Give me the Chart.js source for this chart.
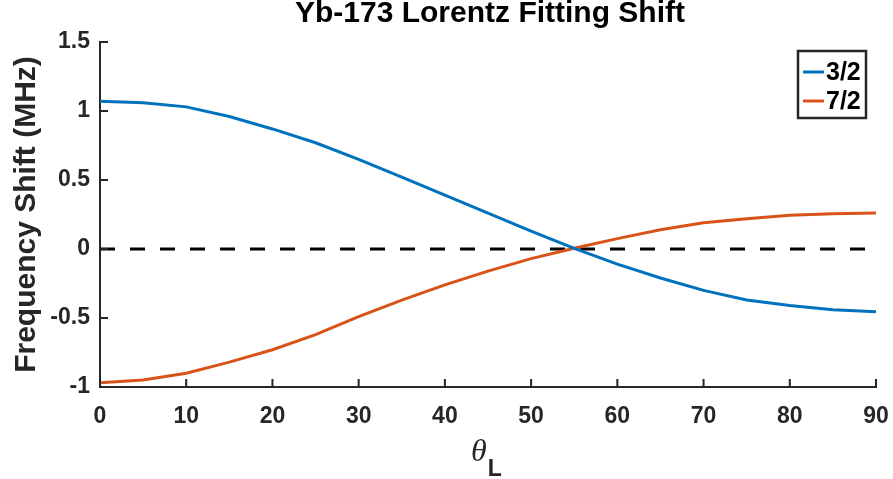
<!DOCTYPE html>
<html>
<head>
<meta charset="utf-8">
<script src="https://cdn.jsdelivr.net/npm/chart.js@4.4.1/dist/chart.umd.min.js"></script>
<style>
  html, body { margin: 0; padding: 0; background: #fff; }
  #wrap { width: 893px; height: 479px; }
</style>
</head>
<body>
<div id="wrap"><canvas id="myChart" width="893" height="479"></canvas></div>
<script>
// angle theta_L in degrees
const angles = [0, 5, 10, 15, 20, 25, 30, 35, 40, 45, 50, 55, 60, 65, 70, 75, 80, 85, 90];
const shift32 = [1.07, 1.06, 1.03, 0.96, 0.87, 0.77, 0.65, 0.52, 0.39, 0.26, 0.13, 0.005, -0.11, -0.21, -0.30, -0.37, -0.41, -0.44, -0.455];
const shift72 = [-0.97, -0.95, -0.90, -0.82, -0.73, -0.62, -0.49, -0.37, -0.26, -0.16, -0.07, 0.005, 0.075, 0.14, 0.19, 0.22, 0.245, 0.255, 0.26];
const zeroX = [0, 90];
const zeroY = [0, 0];

const xTicks = [0, 10, 20, 30, 40, 50, 60, 70, 80, 90];
const yTicks = [-1, -0.5, 0, 0.5, 1, 1.5];
const seriesLabels = ['3/2', '7/2'];

const titleText = 'Yb-173 Lorentz Fitting Shift';
const yTitleText = 'Frequency Shift (MHz)';

const axisColor = '#262626';
const sans = '"Liberation Sans", Arial, sans-serif';

function toPoints(xs, ys) {
    return xs.map((x, i) => ({ x: x, y: ys[i] }));
}

// titles, inward ticks and boxed legend, MATLAB style
const matlabLook = {
    id: 'matlabLook',
    afterDraw(chart) {
        const ctx = chart.ctx;
        const area = chart.chartArea;
        const xs = chart.scales.x;
        const ys = chart.scales.y;
        ctx.save();

        // inward tick marks
        ctx.strokeStyle = axisColor;
        ctx.lineWidth = 2;
        ctx.beginPath();
        xTicks.forEach(v => {
            const px = xs.getPixelForValue(v);
            ctx.moveTo(px, area.bottom);
            ctx.lineTo(px, area.bottom - 8);
        });
        yTicks.forEach(v => {
            const py = ys.getPixelForValue(v);
            ctx.moveTo(area.left, py);
            ctx.lineTo(area.left + 8, py);
        });
        ctx.stroke();

        // title
        const cx = (area.left + area.right) / 2;
        ctx.fillStyle = '#000';
        ctx.font = 'bold 30px ' + sans;
        ctx.textAlign = 'center';
        ctx.textBaseline = 'alphabetic';
        ctx.fillText(titleText, cx + 2, 22);

        // y title
        ctx.save();
        ctx.translate(35, (area.top + area.bottom) / 2);
        ctx.rotate(-Math.PI / 2);
        ctx.fillStyle = axisColor;
        ctx.fillText(yTitleText, 0, 0);
        ctx.restore();

        // x title: theta with subscript L
        ctx.fillStyle = axisColor;
        ctx.font = 'italic 32px "Liberation Serif", "Times New Roman", serif';
        const tw = ctx.measureText('\u03B8').width;
        ctx.font = 'bold 23px ' + sans;
        const lw = ctx.measureText('L').width;
        const startX = cx - (tw + lw) / 2 - 2;
        ctx.textAlign = 'left';
        ctx.font = 'italic 32px "Liberation Serif", "Times New Roman", serif';
        ctx.fillText('\u03B8', startX, 461);
        ctx.font = 'bold 23px ' + sans;
        ctx.fillText('L', startX + tw + 1, 476);

        // legend box
        const bw = 68, bh = 67;
        const bx = area.right - 10 - bw;
        const by = area.top + 9;
        ctx.fillStyle = '#fff';
        ctx.fillRect(bx, by, bw, bh);
        ctx.strokeStyle = axisColor;
        ctx.lineWidth = 2.5;
        ctx.strokeRect(bx, by, bw, bh);
        chart.data.datasets.slice(0, 2).forEach((ds, i) => {
            const ly = by + 21 + i * 29;
            ctx.strokeStyle = ds.borderColor;
            ctx.lineWidth = 3;
            ctx.beginPath();
            ctx.moveTo(bx + 5, ly);
            ctx.lineTo(bx + 26, ly);
            ctx.stroke();
            ctx.fillStyle = '#000';
            ctx.font = 'bold 25px ' + sans;
            ctx.textAlign = 'left';
            ctx.textBaseline = 'middle';
            ctx.fillText(ds.label, bx + 28, ly + 1);
        });
        ctx.restore();
    }
};

const ctx = document.getElementById('myChart').getContext('2d');
new Chart(ctx, {
    type: 'line',
    data: {
        datasets: [{
            label: seriesLabels[0],
            data: toPoints(angles, shift32),
            borderColor: '#0072BD',
            borderWidth: 3,
            pointRadius: 0,
            fill: false
        }, {
            label: seriesLabels[1],
            data: toPoints(angles, shift72),
            borderColor: '#D95319',
            borderWidth: 3,
            pointRadius: 0,
            fill: false
        }, {
            label: 'zero',
            data: toPoints(zeroX, zeroY),
            borderColor: '#000000',
            borderWidth: 3,
            borderDash: [15, 15],
            pointRadius: 0,
            fill: false
        }]
    },
    options: {
        responsive: false,
        animation: false,
        devicePixelRatio: 1,
        layout: { padding: { top: 42, right: 0, bottom: 0, left: 0 } },
        plugins: {
            legend: { display: false },
            title: { display: false },
            tooltip: { enabled: false }
        },
        scales: {
            x: {
                type: 'linear',
                min: 0,
                max: 90,
                afterBuildTicks: scale => { scale.ticks = xTicks.map(v => ({ value: v })); },
                afterFit: scale => {
                    scale.height = 92;
                    scale.paddingLeft = 0;
                    scale.paddingRight = 17;
                },
                grid: { display: false, drawTicks: false },
                border: { display: true, color: axisColor, width: 2 },
                ticks: {
                    color: axisColor,
                    padding: 16,
                    maxRotation: 0,
                    callback: v => String(v),
                    font: { family: sans, size: 23, weight: 'bold' }
                }
            },
            y: {
                type: 'linear',
                min: -1,
                max: 1.5,
                afterBuildTicks: scale => { scale.ticks = yTicks.map(v => ({ value: v })); },
                afterFit: scale => { scale.width = 100; },
                grid: { display: false, drawTicks: false },
                border: { display: true, color: axisColor, width: 2 },
                ticks: {
                    color: axisColor,
                    padding: 10,
                    callback: v => String(v),
                    font: { family: sans, size: 23, weight: 'bold' }
                }
            }
        }
    },
    plugins: [matlabLook]
});
</script>
</body>
</html>
